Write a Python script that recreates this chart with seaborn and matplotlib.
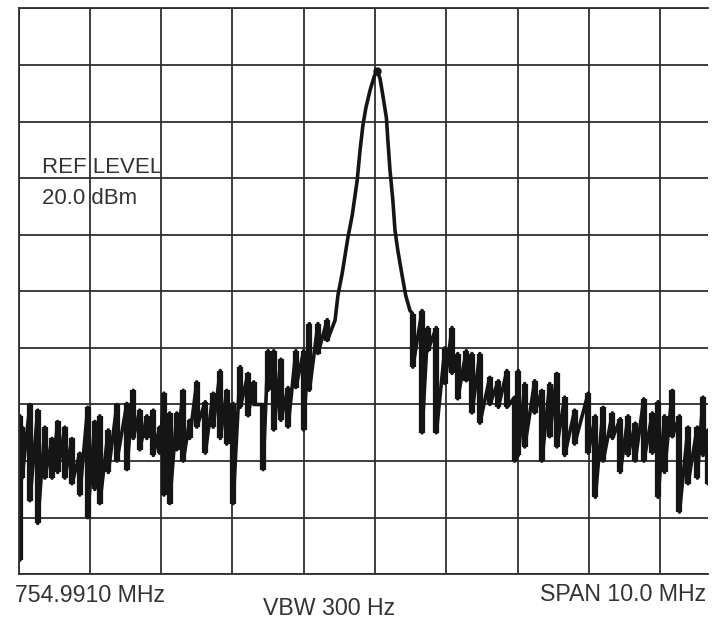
import numpy as np
import pandas as pd
import seaborn as sns
import matplotlib.pyplot as plt

# frequency offset from the start (MHz, 1 MHz/div) and level (dBm, 10 dB/div)
noise_left_freq = [0.02, 0.05, 0.16, 0.27, 0.37, 0.47, 0.55, 0.65, 0.75, 0.86,
                   0.97, 1.07, 1.14, 1.26, 1.38, 1.52, 1.61, 1.70, 1.80, 1.89,
                   1.98, 2.04, 2.12, 2.22, 2.31, 2.40, 2.50, 2.62, 2.73, 2.83,
                   2.92, 3.01, 3.11, 3.22, 3.30, 3.43, 3.50, 3.58, 3.68, 3.78,
                   3.89, 4.00, 4.08, 4.20, 4.33]
noise_left_top = [-52, -54, -50, -51, -54, -56, -53, -54, -56, -58.6,
                  -50.5, -53, -52, -54.5, -50, -49.8, -47.5, -51, -52, -51,
                  -54, -48, -51.5, -51.5, -47.5, -52.8, -46, -49.5, -48, -44,
                  -47.5, -49.8, -43.3, -44.5, -46, -50, -40.5, -40.5, -42, -47,
                  -40.5, -40.5, -35.7, -35.7, -35]
noise_left_bottom = [-77.5, -63, -67, -71, -63, -63, -62, -63, -64, -66,
                     -70, -65, -67.5, -62, -60, -61.5, -56, -58, -56, -59,
                     -58.6, -66, -67.5, -58, -60, -56, -54, -58.6, -54, -56,
                     -57, -67.5, -50.5, -52, -50, -61.5, -47.5, -54.5, -52.8, -54,
                     -47, -54.5, -47.5, -41, -38.7]

peak_freq = [4.44, 4.48, 4.54, 4.58, 4.62, 4.68, 4.75, 4.79, 4.83, 4.87,
             4.93, 4.99, 5.03, 5.07, 5.11, 5.16, 5.18, 5.21, 5.25, 5.28,
             5.32, 5.38, 5.43, 5.49]
peak_level = [-35.1, -30.7, -26.8, -23.6, -20.5, -16.6, -10.4, -5.1, -0.7, 2.3,
              5.5, 8.0, 9.0, 7.6, 4.6, 0.6, -3.3, -8.6, -13.9, -19.2,
              -22.8, -27.2, -30.7, -33.4]

noise_right_freq = [5.53, 5.66, 5.74, 5.86, 5.98, 6.08, 6.16, 6.28, 6.36, 6.47,
                    6.61, 6.73, 6.85, 6.96, 7.01, 7.10, 7.24, 7.34, 7.45, 7.55,
                    7.66, 7.80, 7.99, 8.09, 8.20, 8.33, 8.44, 8.55, 8.65, 8.77,
                    8.89, 8.97, 9.06, 9.17, 9.27, 9.39, 9.52, 9.60, 9.67]
noise_right_top = [-34, -33.4, -36.4, -36.4, -40, -36.4, -41, -40.5, -41, -41,
                   -45.2, -45.8, -44, -48.7, -44, -46.3, -45.8, -47.5, -46.3, -44.5,
                   -48.7, -51, -48, -52, -50.5, -51.5, -52.5, -52, -53.3, -49,
                   -51.5, -49.5, -52, -47.5, -52, -54, -54, -48.7, -54.5]
noise_right_bottom = [-43.4, -55, -40.5, -55, -46.3, -44.5, -49, -45.8, -51.5, -53.3,
                      -50, -50.5, -50.5, -60, -59, -57.5, -51.5, -60, -55.7, -57.5,
                      -59, -57, -58.6, -66.4, -60, -56, -62, -59, -60, -60,
                      -58.6, -66.4, -62, -55.7, -69, -64, -63, -59, -64]

# trace in display order: each noise column is drawn as a top/bottom excursion
freq, level = [], []
for f, t, b in zip(noise_left_freq, noise_left_top, noise_left_bottom):
    freq += [f, f]
    level += [t, b]
freq += peak_freq
level += peak_level
for f, t, b in zip(noise_right_freq, noise_right_top, noise_right_bottom):
    freq += [f, f]
    level += [t, b]
df = pd.DataFrame({"freq": freq, "level": level})

sns.set_style("white")
plt.rcParams["font.family"] = ["Liberation Sans", "DejaVu Sans"]

fig = plt.figure(figsize=(7.17, 6.19), dpi=100)
ax = fig.add_axes([18.5 / 717, 1 - 574.3 / 619, (708 - 18.5) / 717, 566 / 619])

grid_col = "#2e2e2e"
trace_col = "#151515"
sns.lineplot(data=df, x="freq", y="level", sort=False, estimator=None,
             color=trace_col, lw=2.6, ax=ax)
# the peak-detected noise columns look like thick vertical smears
ax.vlines(noise_left_freq, noise_left_bottom, noise_left_top, color=trace_col, lw=4.5)
ax.vlines(noise_right_freq, noise_right_bottom, noise_right_top, color=trace_col, lw=4.5)
ax.plot(peak_freq[12], peak_level[12], "o", color=trace_col, ms=5)

ax.set_xlim(0, 9.67)
ax.set_ylim(-80, 20)
ax.set_xticks(np.arange(0, 10, 1))
ax.set_yticks(np.arange(-80, 21, 10))
ax.grid(True, color=grid_col, lw=1.3)
ax.set_axisbelow(True)
ax.tick_params(axis="x", direction="out", length=3, width=1.3, color=grid_col,
               labelbottom=False)
ax.tick_params(axis="y", length=0, labelleft=False)
ax.set_xlabel("")
ax.set_ylabel("")
for side in ["left", "top", "bottom"]:
    ax.spines[side].set_color(grid_col)
    ax.spines[side].set_linewidth(1.3)
ax.spines["right"].set_visible(False)

txt_col = "#333333"
fig.text(41.5 / 717, 1 - 172.7 / 619, "REF LEVEL", fontsize=16, color=txt_col, va="baseline")
fig.text(41.5 / 717, 1 - 203.5 / 619, "20.0 dBm", fontsize=16, color=txt_col, va="baseline")
fig.text(15 / 717, 1 - 601.5 / 619, "754.9910 MHz", fontsize=16.7, color=txt_col, va="baseline")
fig.text(263 / 717, 1 - 615 / 619, "VBW 300 Hz", fontsize=16.7, color=txt_col, va="baseline")
fig.text(706.5 / 717, 1 - 600.7 / 619, "SPAN 10.0 MHz", fontsize=16.7, color=txt_col,
         va="baseline", ha="right")

fig.savefig("out.png", dpi=100)
